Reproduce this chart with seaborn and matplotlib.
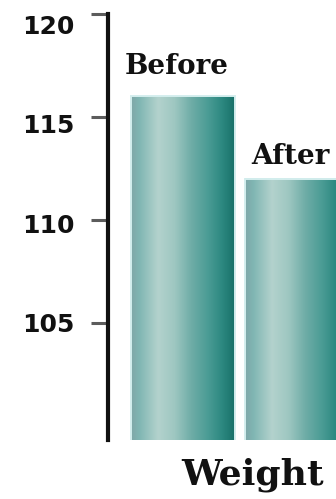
import numpy as np
import pandas as pd
import matplotlib
matplotlib.use("Agg")
import matplotlib.pyplot as plt
import seaborn as sns
from matplotlib.colors import LinearSegmentedColormap
from matplotlib.transforms import ScaledTranslation

# chart data
phases = ["Before", "After"]
weights = [116, 112]
y_ticks = [105, 110, 115, 120]
x_title = "Weight"

df = pd.DataFrame({"phase": phases, "weight": weights})

sns.set_theme(style="white")
plt.rcParams["font.family"] = ["DejaVu Sans"]

W, H, DPI = 336, 499, 100
fig = plt.figure(figsize=(W / DPI, H / DPI), dpi=DPI)
fig.patch.set_facecolor("white")
ax = fig.add_axes([108 / W, 59 / H, 228 / W, 426 / H])
ax.set_facecolor("white")

sns.barplot(data=df, x="phase", y="weight", hue="phase",
            palette={p: "#5fa8a2" for p in phases}, width=0.91,
            legend=False, ax=ax, err_kws={"linewidth": 0})

y_lo, y_hi = 99.32, 120
ax.set_xlim(-0.658, 1.342)
ax.set_ylim(y_lo, y_hi)

# horizontal teal shading across each bar, with a pale rim
shade = LinearSegmentedColormap.from_list("teal_shade", [
    (0.00, "#7fa7a8"), (0.08, "#80b6b3"), (0.26, "#b3d2cd"),
    (0.42, "#9ec7c1"), (0.58, "#6fada7"), (0.74, "#4b9c95"),
    (0.88, "#2c8880"), (1.00, "#187068")])
grad = np.linspace(0, 1, 256).reshape(1, -1)
for bar in ax.patches:
    x0 = bar.get_x()
    top = bar.get_y() + bar.get_height()
    ax.imshow(grad, cmap=shade, aspect="auto", interpolation="bicubic",
              extent=[x0, x0 + bar.get_width(), y_lo, top], zorder=2)
    bar.set_facecolor("none")
    bar.set_edgecolor("#d4eeee")
    bar.set_linewidth(1.4)
    bar.set_zorder(3)
ax.set_xlim(-0.658, 1.342)
ax.set_ylim(y_lo, y_hi)

# phase names above bars (offsets in points)
label_offsets = [15.8, 10.8]
for i, (name, val) in enumerate(zip(phases, weights)):
    ax.annotate(name, xy=(i, val), xytext=(-4.5, label_offsets[i]),
                textcoords="offset points", ha="center", va="baseline",
                fontsize=20, fontweight="bold", family="DejaVu Serif",
                color="#111111", annotation_clip=False, zorder=5)

for side in ("top", "right", "bottom"):
    ax.spines[side].set_visible(False)
ax.spines["left"].set_color("#111111")
ax.spines["left"].set_linewidth(3)
ax.spines["left"].set_zorder(6)

ax.set_yticks(y_ticks)
ax.set_yticklabels([str(t) for t in y_ticks])
ax.tick_params(axis="y", direction="out", length=12, width=2.2,
               color="#5c5c5c", pad=12, labelsize=18, labelcolor="#111111",
               left=True)
for lab in ax.get_yticklabels():
    lab.set_fontweight("bold")
# slight downward nudge of the upper tick labels
for lab, dy in zip(ax.get_yticklabels(), [0, 4, 7, 11]):
    lab.set_transform(lab.get_transform() + ScaledTranslation(0, -dy / DPI, fig.dpi_scale_trans))

ax.set_xticks([])
ax.set_ylabel("")
ax.set_xlabel(x_title, fontsize=26, fontweight="bold", family="DejaVu Serif",
              color="#111111")
ax.xaxis.label.set_va("baseline")
ax.xaxis.set_label_coords(0.634, -0.1056)

fig.savefig("out.png", dpi=DPI, facecolor="white")
